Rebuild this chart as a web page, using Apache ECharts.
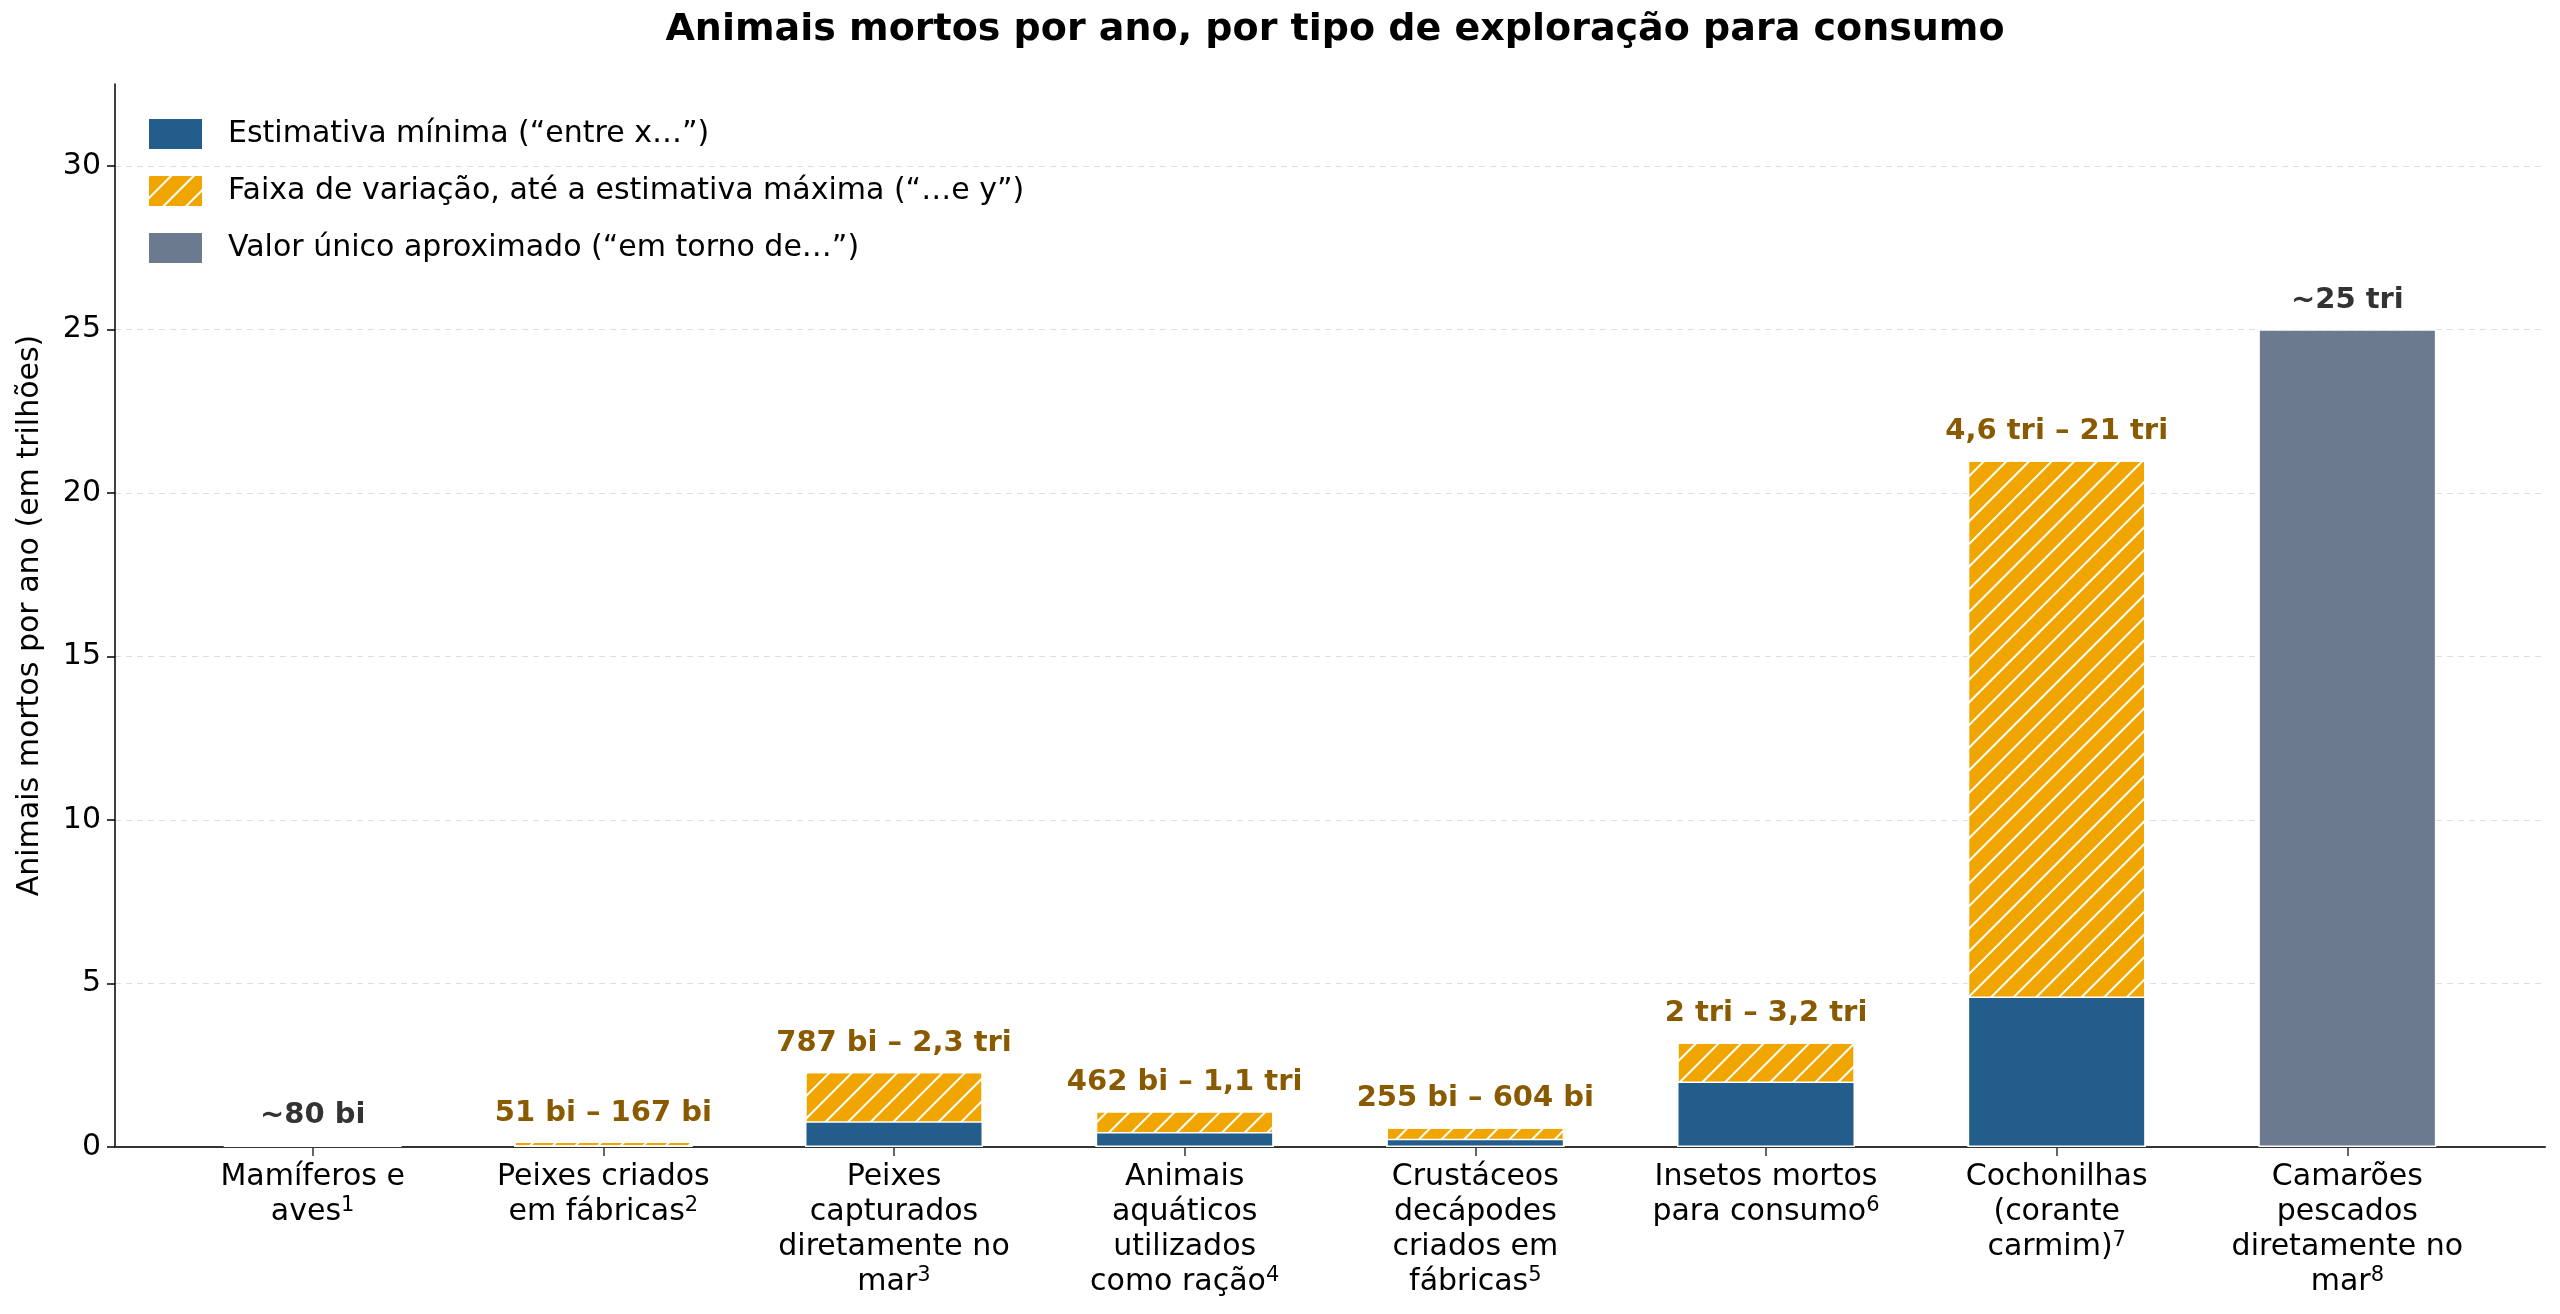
<!DOCTYPE html>
<html>
<head>
<meta charset="utf-8">
<script src="https://cdn.jsdelivr.net/npm/echarts@6/dist/echarts.min.js"></script>
<style>
  html, body { margin: 0; padding: 0; background: #fff; }
  #chart { width: 2560px; height: 1314px; }
</style>
</head>
<body>
<div id="chart"></div>
<script>
// categorias (eixo x) e nota de rodapé de cada uma
const categories = [
  'Mamíferos e\naves',
  'Peixes criados\nem fábricas',
  'Peixes\ncapturados\ndiretamente no\nmar',
  'Animais\naquáticos\nutilizados\ncomo ração',
  'Crustáceos\ndecápodes\ncriados em\nfábricas',
  'Insetos mortos\npara consumo',
  'Cochonilhas\n(corante\ncarmim)',
  'Camarões\npescados\ndiretamente no\nmar'
]
const footnotes = [1, 2, 3, 4, 5, 6, 7, 8]

// valores em trilhões
const minVals = [null, 0.051, 0.787, 0.462, 0.255, 2, 4.6, null]
const maxVals = [null, 0.167, 2.3, 1.1, 0.604, 3.2, 21, null]
const singleVals = [0.08, null, null, null, null, null, null, 25]

const topLabels = [
  '~80 bi', '51 bi – 167 bi', '787 bi – 2,3 tri', '462 bi – 1,1 tri',
  '255 bi – 604 bi', '2 tri – 3,2 tri', '4,6 tri – 21 tri', '~25 tri'
]

const yTicks = [0, 5, 10, 15, 20, 25, 30]
const xTicks = categories.map((_, i) => i)

const legendNames = [
  'Estimativa mínima (“entre x…”)',
  'Faixa de variação, até a estimativa máxima (“…e y”)',
  'Valor único aproximado (“em torno de…”)'
]

const FONT = 'DejaVu Sans'
const BLUE = '#225d8b'
const ORANGE = '#f0a500'
const GRAY = '#6b7a8f'

const toPairs = arr => arr.map((v, i) => [i, v])

const chart = echarts.init(document.getElementById('chart'))

// as barras se sobrepõem: faixa (até o máximo) atrás, mínimo por cima
const barBase = {
  type: 'bar',
  barWidth: 178,
  barGap: '-100%'
}

chart.setOption({
  animation: false,
  backgroundColor: '#fff',
  textStyle: { fontFamily: FONT },
  title: {
    text: 'Animais mortos por ano, por tipo de exploração para consumo',
    left: 1330,
    textAlign: 'center',
    top: 6,
    textStyle: { fontFamily: FONT, fontSize: 38, fontWeight: 'bold', color: '#000' }
  },
  legend: {
    orient: 'vertical',
    left: 142,
    top: 112,
    icon: 'rect',
    itemWidth: 55,
    itemHeight: 32,
    itemGap: 23,
    data: legendNames,
    textStyle: { fontFamily: FONT, fontSize: 30, color: '#000', padding: [0, 0, 0, 20] }
  },
  grid: { left: 115, right: 15, top: 84, bottom: 167, containLabel: false },
  xAxis: {
    type: 'value',
    min: -0.68,
    max: 7.68,
    axisLine: { show: true, onZero: false, lineStyle: { color: '#333', width: 2 } },
    axisTick: { show: true, customValues: xTicks, length: 9, lineStyle: { color: '#333', width: 1.5 } },
    axisLabel: {
      customValues: xTicks,
      formatter: v => categories[v] + '{sup|' + footnotes[v] + '}',
      fontFamily: FONT,
      fontSize: 30,
      lineHeight: 35,
      color: '#000',
      margin: 13,
      align: 'center',
      rich: {
        sup: { fontFamily: FONT, fontSize: 21, lineHeight: 35, verticalAlign: 'top', color: '#000' }
      }
    },
    splitLine: { show: false }
  },
  yAxis: {
    type: 'value',
    min: 0,
    max: 32.5,
    name: 'Animais mortos por ano (em trilhões)',
    nameLocation: 'middle',
    nameGap: 70,
    nameTextStyle: { fontFamily: FONT, fontSize: 30, color: '#000' },
    axisLine: { show: true, onZero: false, lineStyle: { color: '#000', width: 1.5 } },
    axisTick: { show: true, customValues: yTicks, length: 8, lineStyle: { color: '#000', width: 1.5 } },
    axisLabel: { customValues: yTicks, fontFamily: FONT, fontSize: 30, color: '#000', margin: 14 },
    splitLine: { show: true, lineStyle: { color: '#dedede', type: [6, 5], width: 1.2 } }
  },
  series: [
    Object.assign({}, barBase, {
      name: legendNames[1],
      data: toPairs(maxVals),
      itemStyle: {
        color: ORANGE,
        borderColor: '#fff',
        borderWidth: 1.5,
        decal: {
          symbol: 'rect',
          color: '#ffffff',
          dashArrayX: [1, 0],
          dashArrayY: [2, 14],
          rotation: -Math.PI / 4
        }
      },
      label: {
        show: true,
        position: 'top',
        distance: 14,
        formatter: p => topLabels[p.dataIndex],
        fontFamily: FONT,
        fontSize: 29,
        fontWeight: 'bold',
        color: '#8a5a00'
      }
    }),
    Object.assign({}, barBase, {
      name: legendNames[0],
      data: toPairs(minVals),
      itemStyle: { color: BLUE, borderColor: '#fff', borderWidth: 1.5 }
    }),
    Object.assign({}, barBase, {
      name: legendNames[2],
      data: toPairs(singleVals),
      itemStyle: { color: GRAY, borderColor: '#fff', borderWidth: 1.5 },
      label: {
        show: true,
        position: 'top',
        distance: 14,
        formatter: p => topLabels[p.dataIndex],
        fontFamily: FONT,
        fontSize: 29,
        fontWeight: 'bold',
        color: '#333'
      }
    })
  ]
})
</script>
</body>
</html>
